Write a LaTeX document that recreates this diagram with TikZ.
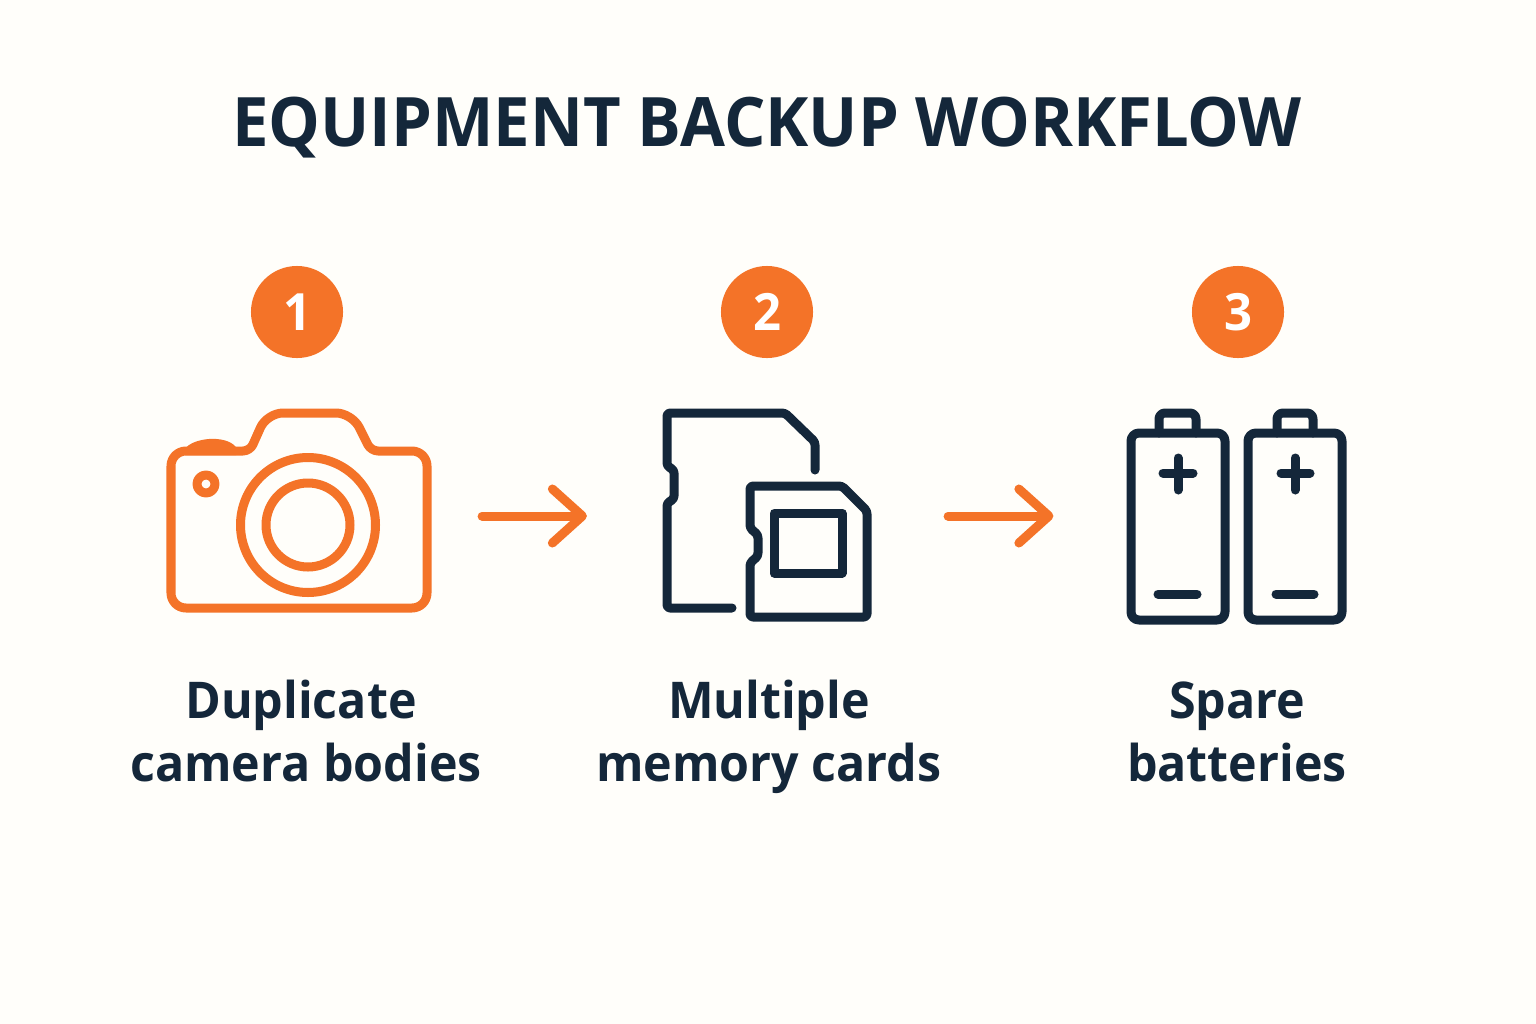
\documentclass[tikz,border=0pt]{standalone}
\usepackage{fontspec}
\setmainfont{Open Sans}[FakeStretch=0.955]
\usetikzlibrary{arrows.meta}
\definecolor{flameorange}{HTML}{F47328}
\definecolor{inknavy}{HTML}{14273A}
\definecolor{paper}{HTML}{FFFEFA}

\begin{document}
\begin{tikzpicture}[x=0.01cm, y=-0.01cm,
  badge/.style={circle, fill=flameorange, text=white, minimum size=0.92cm, inner sep=0pt, font=\fontsize{14.6}{16}\selectfont\bfseries},
  caption/.style={align=center, text=inknavy, font=\fontsize{14.4}{17.9}\selectfont\bfseries},
  iconbox/.style={minimum height=2.12cm, inner sep=0pt, outer sep=0pt},
  orangeline/.style={draw=flameorange, line width=0.09cm, line join=round, line cap=round},
  navyline/.style={draw=inknavy, line width=0.09cm, line join=round, line cap=round},
  flow/.style={orangeline, -{Straight Barb[length=0.3cm, width=0.54cm, round]}}]
\useasboundingbox (0,0) rectangle (1536,1024);
\fill[paper] (0,0) rectangle (1536,1024);

\node[text=inknavy, font=\fontsize{19.4}{22}\selectfont\bfseries] (title) at (767,128) {EQUIPMENT BACKUP WORKFLOW};

\node[badge] (one) at (297,312) {1};
\node[badge] (two) at (767,312) {2};
\node[badge] (three) at (1238,312) {3};

\node[iconbox, minimum width=2.64cm] (camera) at (299,516) {};
\node[iconbox, minimum width=2.08cm] (card) at (767,516) {};
\node[iconbox, minimum width=2.19cm] (battery) at (1236,516) {};

% camera
\draw[orangeline, rounded corners=0.15cm] (171,520) -- (171,451) [rounded corners=0.07cm] -- (250,451) [rounded corners=0.16cm] -- (267,413) -- (352,413) [rounded corners=0.07cm] -- (371,451) [rounded corners=0.15cm] -- (427,451) -- (427,608) -- (171,608) -- cycle;
\fill[flameorange] (185,449) .. controls (192,438) and (225,434) .. (236,447) -- (236,455) -- (185,455) -- cycle;
\draw[orangeline] (206,484) circle (9);
\draw[orangeline] (308,525) circle (67.5);
\draw[orangeline] (308,525) circle (42);

% cards
\draw[navyline, rounded corners=0.03cm] (732,608) -- (667,608) -- (667,503) -- (674,499) -- (674,470) -- (667,466) -- (667,413) -- (785,413) -- (815,442) -- (815,470);
\draw[navyline, rounded corners=0.03cm] (750,617) -- (750,563) -- (758,556) -- (758,535) -- (750,528) -- (750,486) -- (842,486) -- (867,511) -- (867,617) -- cycle;
\draw[navyline] (774,513) rectangle (842,573);

% batteries
\draw[navyline, rounded corners=0.08cm] (1131,433) rectangle (1225,620);
\draw[navyline, rounded corners=0.06cm] (1159,433) -- (1159,413) -- (1196,413) -- (1196,433);
\draw[navyline] (1163,473) -- (1193,473);
\draw[navyline] (1178,458) -- (1178,490);
\draw[navyline] (1158,594) -- (1197,594);
\draw[navyline, rounded corners=0.08cm] (1248,433) rectangle (1342,620);
\draw[navyline, rounded corners=0.06cm] (1277,433) -- (1277,413) -- (1313,413) -- (1313,433);
\draw[navyline] (1281,473) -- (1310,473);
\draw[navyline] (1295,458) -- (1295,490);
\draw[navyline] (1276,594) -- (1314,594);

\draw[flow, shorten <=0.51cm, shorten >=0.76cm] (camera) -- (card);
\draw[flow, shorten <=0.77cm, shorten >=0.73cm] (card) -- (battery);

\node[caption] (dup) at (306,731) {Duplicate\kern0.1cm\\camera bodies};
\node[caption] (mem) at (769,737) {Multiple\\memory cards};
\node[caption] (spa) at (1237,732) {Spare\\batteries};
\end{tikzpicture}
\end{document}
